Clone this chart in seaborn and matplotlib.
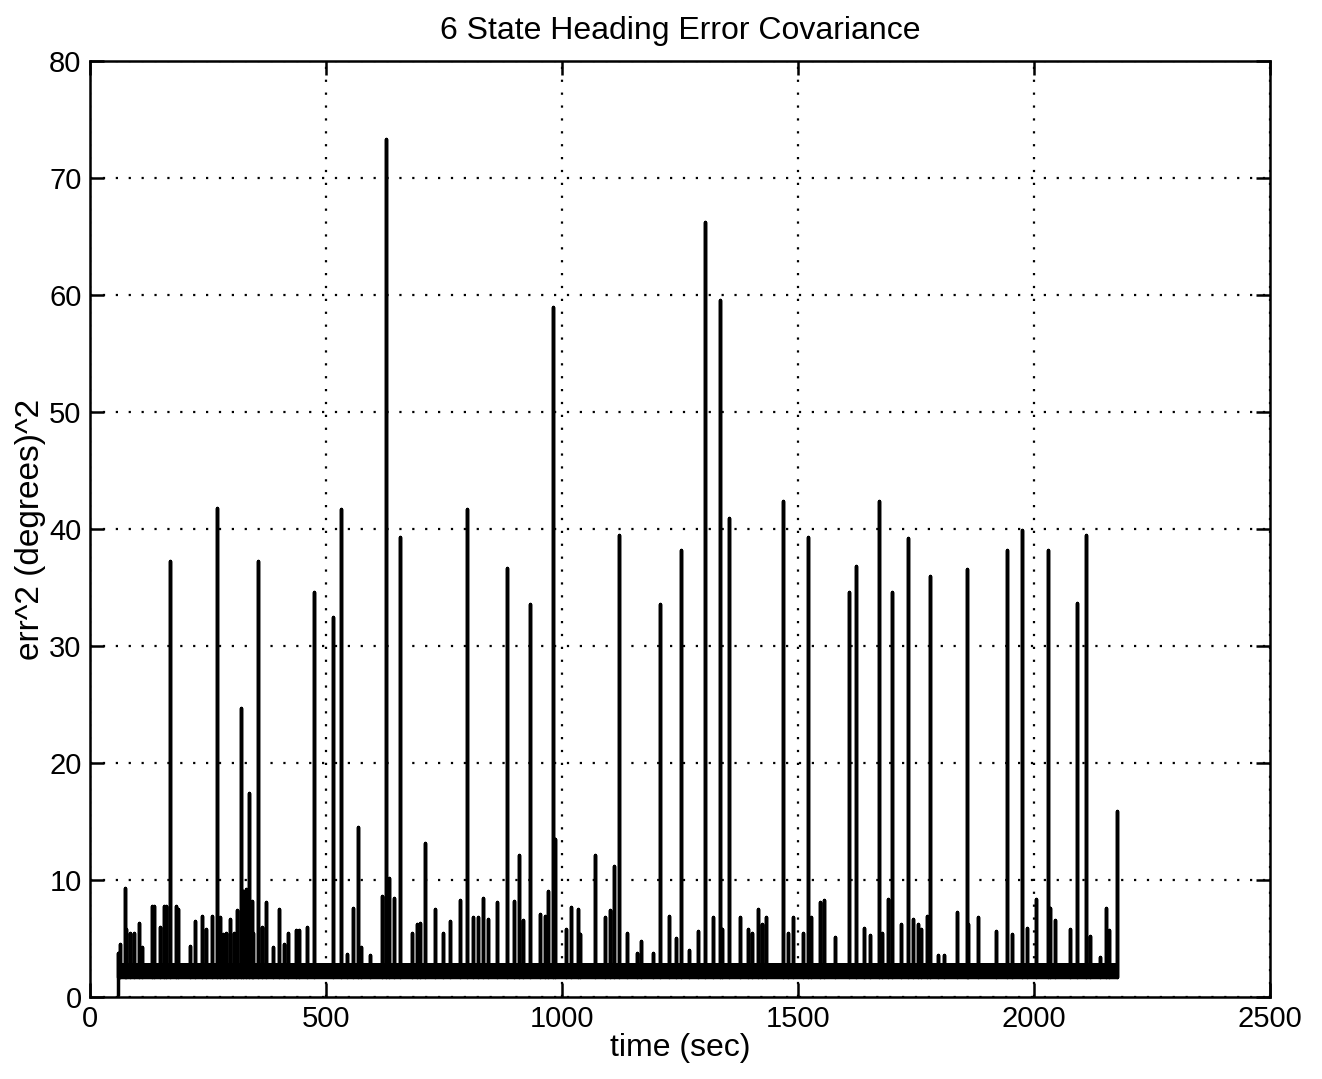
import numpy as np
import pandas as pd
import matplotlib
matplotlib.use("Agg")
import matplotlib.pyplot as plt
import seaborn as sns

# ---- data (time in sec, value in degrees^2) ----
spike_t = [60, 63, 74, 77, 84, 94, 104, 111, 131, 136, 148, 157, 161, 169.5, 182, 187,
           212, 222, 237, 247, 258, 269.7, 275, 282, 289, 297, 305, 311, 320, 325, 331,
           337, 343, 346, 356.6, 365, 374, 388, 401, 411, 420, 436, 444, 459, 474.6,
           515.5, 531.8, 544, 558, 568, 575, 593, 618, 627, 633.6, 645, 656, 681.5, 692,
           699, 710, 731, 749, 763, 784, 798, 812, 822, 833, 843, 861.6, 883, 899, 909,
           918, 932, 953, 964, 970, 980, 985, 1009, 1020, 1034.6, 1039, 1070, 1091,
           1101.7, 1110, 1120, 1137, 1158, 1166.7, 1193, 1207.6, 1226.7, 1242, 1252.8,
           1270, 1289, 1303, 1320.6, 1335, 1340, 1353.8, 1377, 1395, 1403, 1416, 1423,
           1431.5, 1467.5, 1479, 1490, 1510, 1520.5, 1527, 1546.6, 1555.7, 1578, 1609,
           1623.6, 1640, 1653, 1672, 1679, 1691, 1699, 1717.5, 1734, 1744, 1755, 1760,
           1772.6, 1779.7, 1796, 1810, 1837.6, 1857, 1860, 1882, 1919.5, 1942, 1954,
           1974, 1986, 2004, 2029, 2033, 2044, 2076, 2092, 2109.5, 2118.6, 2140, 2152.5,
           2158, 2176]
spike_v = [3.8, 4.5, 9.3, 5.8, 5.5, 5.5, 6.3, 4.3, 7.8, 7.8, 6.0, 7.8, 7.8, 37.3, 7.8, 7.5,
           4.4, 6.5, 6.9, 5.8, 6.9, 41.8, 6.8, 5.4, 5.5, 6.7, 5.5, 7.4, 24.7, 9.1, 9.2,
           17.4, 8.2, 5.5, 37.3, 6.0, 8.1, 4.3, 7.5, 4.5, 5.5, 5.7, 5.7, 6.0, 34.6,
           32.5, 41.7, 3.7, 7.6, 14.5, 4.3, 3.6, 8.6, 73.3, 10.2, 8.5, 39.3, 5.5, 6.2,
           6.3, 13.2, 7.5, 5.5, 6.5, 8.3, 41.7, 6.8, 6.8, 8.5, 6.7, 8.1, 36.7, 8.2, 12.1,
           6.6, 33.6, 7.1, 6.9, 9.1, 59.0, 13.5, 5.8, 7.7, 7.5, 5.4, 12.1, 6.8,
           7.4, 11.2, 39.5, 5.5, 3.8, 4.8, 3.8, 33.6, 6.9, 5.0, 38.2,
           4.0, 5.6, 66.2, 6.8, 59.6, 5.8, 40.9, 6.8, 5.8, 5.5, 7.5, 6.2,
           6.8, 42.4, 5.5, 6.8, 5.5, 39.3, 6.8, 8.1, 8.3, 5.1, 34.6,
           36.8, 5.9, 5.3, 42.4, 5.5, 8.4, 34.6, 6.2, 39.2, 6.7, 6.2, 5.8,
           6.9, 36.0, 3.6, 3.6, 7.3, 36.6, 6.2, 6.8, 5.6, 38.2, 5.4,
           39.9, 5.9, 8.4, 38.2, 7.6, 6.6, 5.8, 33.7, 39.5, 5.2, 3.4, 7.6,
           5.7, 15.9]
band_low = 1.7     # lower edge of the dense noise band
band_high = 2.9    # upper edge of the dense noise band
start_value = 0.2  # value of the first sample

x_ticks = [0, 500, 1000, 1500, 2000, 2500]
y_ticks = [0, 10, 20, 30, 40, 50, 60, 70, 80]

# ---- build the trace: each spike rises from the band and falls back ----
tt, vv = [spike_t[0]], [start_value]
for t, v in zip(spike_t, spike_v):
    tt += [t, t, t]
    vv += [band_low, v, band_low]
df = pd.DataFrame({"time": tt, "err": vv})

sns.set_theme(style="white")
plt.rcParams["font.family"] = ["Liberation Sans", "DejaVu Sans"]

fig = plt.figure(figsize=(13.22, 10.79), dpi=100)
ax = fig.add_axes([0.068, 0.076, 0.8927, 0.8675])

ax.fill_between([spike_t[0], spike_t[-1]], band_low, band_high,
                color="black", lw=0, zorder=2)
sns.lineplot(data=df, x="time", y="err", sort=False, estimator=None,
             color="black", lw=2.5, ax=ax, zorder=3)

ax.set_xlim(0, 2500)
ax.set_ylim(0, 80)
ax.set_xticks(x_ticks)
ax.set_yticks(y_ticks)
ax.set_xticklabels([str(v) for v in x_ticks])
ax.set_yticklabels([str(v) for v in y_ticks])

ax.grid(True, color="black", linestyle=(0, (1, 4.8)), lw=1.6)
ax.set_axisbelow(True)
for s in ax.spines.values():
    s.set_color("black")
    s.set_linewidth(1.8)
    s.set_visible(True)

ax.tick_params(axis="both", which="both", direction="in", length=10, width=1.8,
               colors="black", labelsize=21, top=True, right=True,
               bottom=True, left=True, pad=6)

ax.set_title("6 State Heading Error Covariance", fontsize=23, pad=16, color="black")
ax.set_xlabel("time (sec)", fontsize=23, labelpad=0, color="black")
ax.set_ylabel("err^2 (degrees)^2", fontsize=24, labelpad=2, color="black")

fig.savefig("out.png", dpi=100, facecolor="white")
